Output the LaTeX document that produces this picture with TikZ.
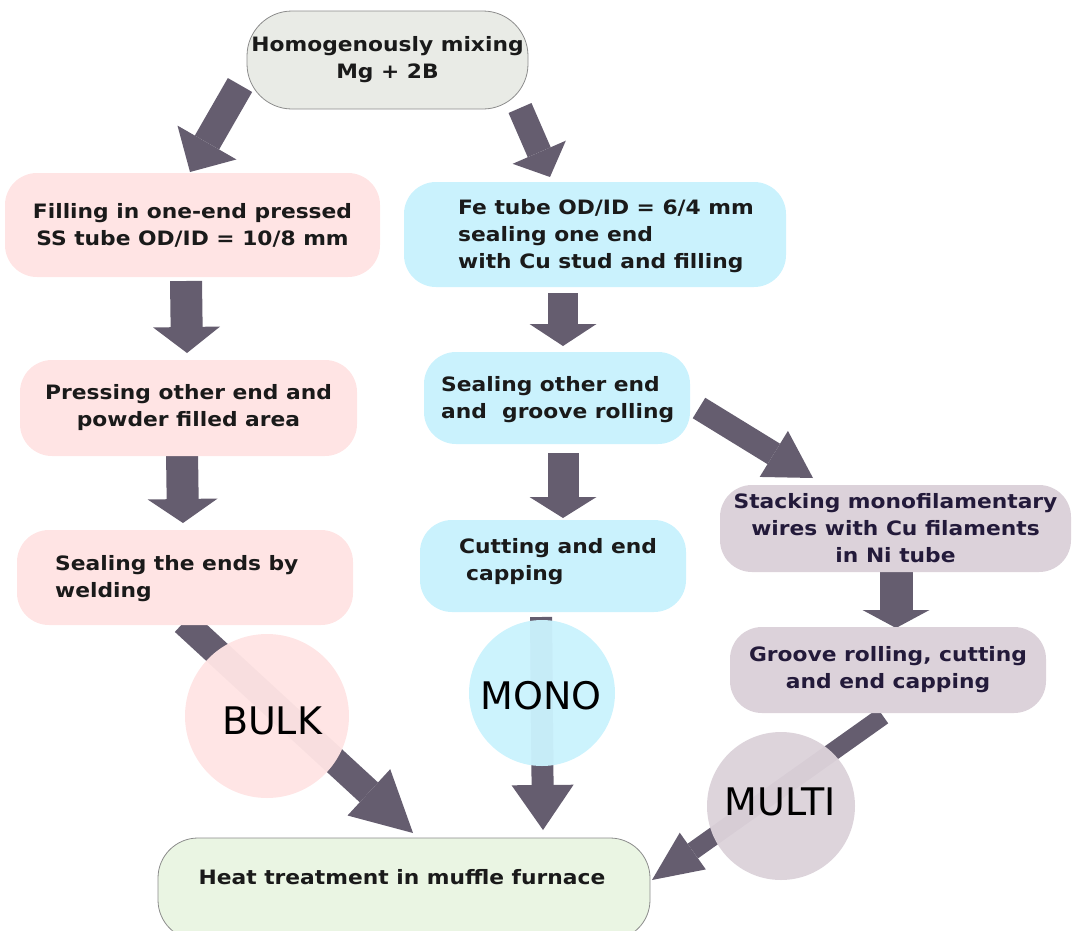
\documentclass[tikz,border=0pt]{standalone}
\usepackage{fontspec}
\setmainfont{DejaVu Sans}
\newfontfamily\boxfont{DejaVu Sans}[FakeStretch=1.1]
\usetikzlibrary{arrows.meta}
\definecolor{arrowc}{RGB}{101,93,111}
\definecolor{grayc}{RGB}{233,235,230}
\definecolor{pinkc}{RGB}{255,228,228}
\definecolor{cyanc}{RGB}{202,242,253}
\definecolor{mauvec}{RGB}{220,210,218}
\definecolor{greenc}{RGB}{234,245,227}
\definecolor{edgec}{RGB}{140,140,140}
\definecolor{txtc}{RGB}{26,26,26}
\definecolor{navyc}{RGB}{35,26,58}
\tikzset{
  box/.style={rectangle, rounded corners=32pt, inner sep=0pt, align=center,
    font=\boxfont\fontsize{19.8}{27}\selectfont\bfseries, text=txtc},
  txt/.style={inner sep=0pt, align=left, anchor=west,
    font=\boxfont\fontsize{19.8}{27}\selectfont\bfseries, text=txtc},
  blk/.style args={#1/#2/#3}{draw=arrowc, line width=#1pt,
    -{Triangle[width=#2pt,length=#3pt,line width=0pt,fill=arrowc]}},
  disc/.style={circle, inner sep=0pt, fill opacity=0.96, text opacity=1,
    font=\fontsize{38}{40}\selectfont, text=black},
  lbl/.style={inner sep=0pt, font=\fontsize{38}{40}\selectfont, text=black}
}
\begin{document}
\begin{tikzpicture}[x=1pt,y=-1pt]
\useasboundingbox (0,0) rectangle (1072,930);
\clip (0,0) rectangle (1072,930);

% arrow end points
\coordinate (a1s) at (240,85);  \coordinate (a1e) at (190,172);
\coordinate (a2s) at (520,108); \coordinate (a2e) at (550,177);
\coordinate (a3s) at (186,281); \coordinate (a3e) at (187,353);
\coordinate (a4s) at (182,452); \coordinate (a4e) at (183,523);
\coordinate (a5s) at (563,293); \coordinate (a5e) at (563,346);
\coordinate (a6s) at (699,408); \coordinate (a6e) at (813,478);
\coordinate (a7s) at (563,453); \coordinate (a7e) at (563,518);
\coordinate (a8s) at (896,572); \coordinate (a8e) at (896,628);
\coordinate (a9s) at (184,622); \coordinate (a9e) at (413,833);
\coordinate (a10s) at (541,617); \coordinate (a10e) at (543,830);
\coordinate (a11s) at (883,716); \coordinate (a11e) at (652,880);

% arrows
\draw[blk=28/68/34] (a1s) -- (a1e);
\draw[blk=25/58/27] (a2s) -- (a2e);
\draw[blk=32/67/26] (a3s) -- (a3e);
\draw[blk=32/70/24] (a4s) -- (a4e);
\draw[blk=30/67/22] (a5s) -- (a5e);
\draw[blk=24/54/46] (a6s) -- (a6e);
\draw[blk=31/67/21] (a7s) -- (a7e);
\draw[blk=33/67/18] (a8s) -- (a8e);
\draw[blk=27/63/60] (a9s) -- (a9e);
\draw[blk=22/62/45] (a10s) -- (a10e);
\draw[blk=18/45/50] (a11s) -- (a11e);

% boxes
\node[box, rounded corners=45pt, fill=grayc, draw=edgec, line width=0.8pt,
  minimum width=281pt, minimum height=98pt] (mix) at (387.5,60)
  {Homogenously mixing\\Mg + 2B};
\node[box, fill=pinkc, minimum width=375pt, minimum height=104pt] (fill) at (192.5,225)
  {Filling in one-end pressed\\SS tube OD/ID = 10/8 mm};
\node[box, fill=pinkc, minimum width=337pt, minimum height=96pt] (press) at (188.5,408)
  {Pressing other end and\\powder filled area};
\node[box, fill=pinkc, minimum width=336pt, minimum height=95pt] (seal) at (185,577.5) {};
\node[txt] (sealt) at (55,578.5) {Sealing the ends by\\welding};

\node[box, fill=cyanc, minimum width=382pt, minimum height=105pt] (fe) at (595,234.5) {};
\node[txt] (fet) at (458,236) {Fe tube OD/ID = 6/4 mm\\sealing one end\\with Cu stud and filling};
\node[box, fill=cyanc, minimum width=266pt, minimum height=92pt] (sealo) at (557,398) {};
\node[txt] (sealot) at (441,399.5) {Sealing other end\\and\ \ groove rolling};
\node[box, fill=cyanc, minimum width=266pt, minimum height=92pt] (cut) at (553,566) {};
\node[txt] (cutt) at (459,561.5) {Cutting and end\\\hspace*{7pt}capping};

\node[box, fill=mauvec, text=navyc, minimum width=351pt, minimum height=87pt] (stack) at (895.5,528.5)
  {Stacking monofilamentary\\wires with Cu filaments\\in Ni tube};
\node[box, fill=mauvec, text=navyc, minimum width=316pt, minimum height=86pt] (groove) at (888,670)
  {Groove rolling, cutting\\and end capping};

\node[box, rounded corners=40pt, fill=greenc, draw=edgec, line width=0.8pt,
  minimum width=492pt, minimum height=102pt] (heat) at (404,889) {};
\node[txt, anchor=center] (heatt) at (402,877) {Heat treatment in muffle furnace};

% discs
\node[disc, fill=pinkc, minimum size=164pt] (bulk) at (267,716) {};
\node[disc, fill=cyanc, minimum size=146pt] (mono) at (542,693) {};
\node[disc, fill=mauvec, minimum size=148pt] (multi) at (781,806) {};
\node[lbl] (bulkt) at (272,721) {BULK};
\node[lbl] (monot) at (541,696) {MONO};
\node[lbl] (multit) at (780,802) {MULTI};
\end{tikzpicture}
\end{document}
